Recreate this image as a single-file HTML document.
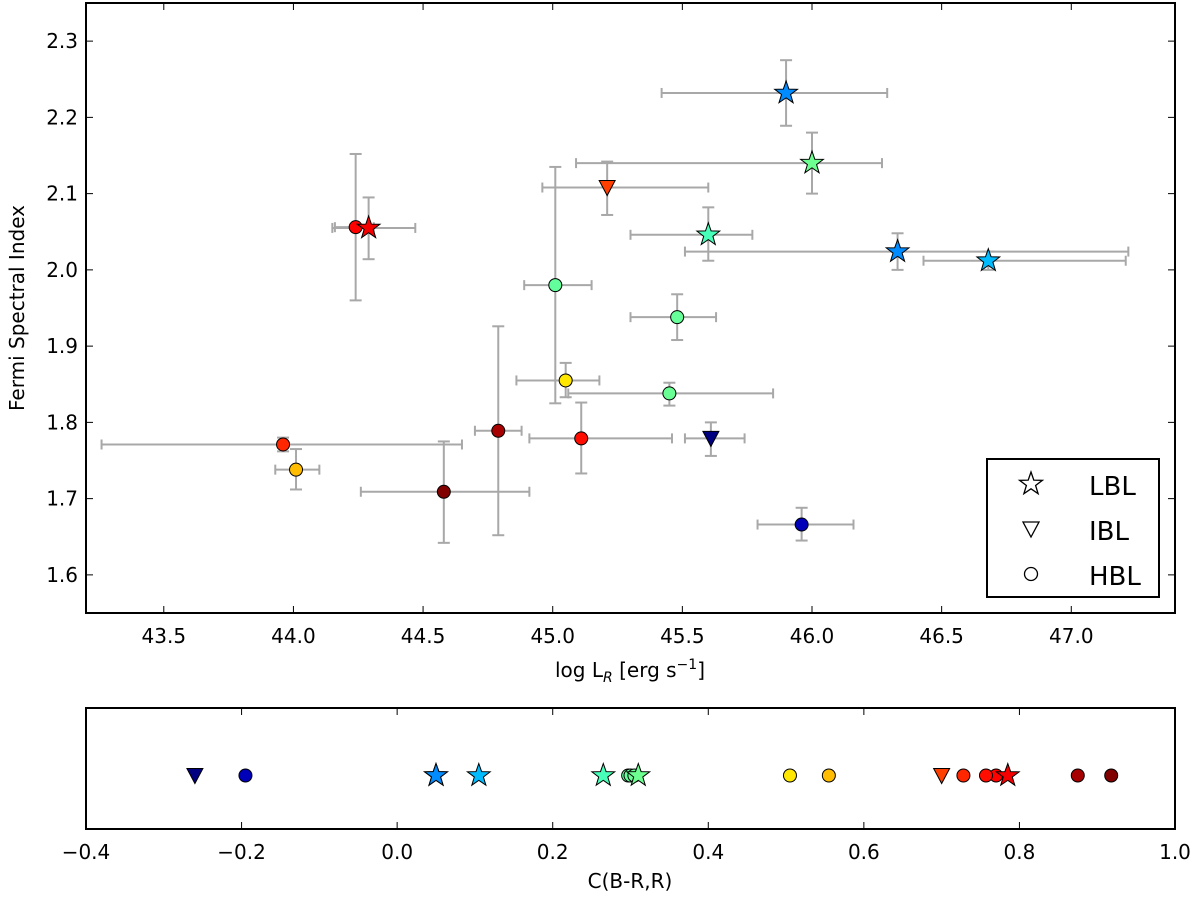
<!DOCTYPE html>
<html><head><meta charset="utf-8"><style>
body{margin:0;background:#fff;}
svg text{font-family:"DejaVu Sans","Liberation Sans",sans-serif;}
</style></head><body>
<svg id="chart" width="1200" height="893" xmlns="http://www.w3.org/2000/svg">
<rect width="1200" height="893" fill="#fff"/>
<g id="main"></g>
<g id="bottom"></g>
</svg>
<script>
// main panel data
const types = ['H','S','H','H','H','H','H','H','H','H','H','H','T','T','S','S','S','S','S'];
const logL  = [44.24,44.29,45.01,45.05,45.48,45.45,45.11,44.79,44.58,43.96,44.01,45.96,45.21,45.61,45.90,46.00,45.60,46.33,46.68];
const gamma = [2.056,2.055,1.980,1.855,1.938,1.838,1.779,1.789,1.709,1.771,1.738,1.666,2.108,1.779,2.232,2.140,2.046,2.024,2.012];
const xLo   = [44.16,44.15,44.89,44.86,45.30,45.06,44.91,44.70,44.26,43.26,43.93,45.79,44.96,45.51,45.42,45.09,45.30,45.51,46.43];
const xHi   = [44.31,44.47,45.15,45.18,45.63,45.85,45.46,44.88,44.91,44.65,44.10,46.16,45.60,45.74,46.29,46.27,45.77,47.22,47.21];
const yLo   = [1.960,2.014,1.825,1.833,1.908,1.822,1.733,1.652,1.642,1.762,1.712,1.645,2.072,1.756,2.189,2.100,2.012,2.000,2.000];
const yHi   = [2.152,2.095,2.135,1.878,1.968,1.852,1.826,1.926,1.775,1.780,1.765,1.688,2.142,1.800,2.275,2.180,2.082,2.048,2.024];
const cVal  = [0.770,0.785,0.297,0.505,0.300,0.305,0.757,0.875,0.918,0.728,0.555,-0.195,0.700,-0.260,0.050,0.310,0.265,0.050,0.105];
const xTicks = [43.5,44.0,44.5,45.0,45.5,46.0,46.5,47.0];
const yTicks = [1.6,1.7,1.8,1.9,2.0,2.1,2.2,2.3];
const cTicks = [-0.4,-0.2,0.0,0.2,0.4,0.6,0.8,1.0];
const cTickLabels = ['\u22120.4','\u22120.2','0.0','0.2','0.4','0.6','0.8','1.0'];

const NS='http://www.w3.org/2000/svg';
const L=86,R=1175,T=3,B=613;
const X=v=>L+(v-43.2)/(47.4-43.2)*(R-L);
const Y=v=>B-(v-1.55)/(2.35-1.55)*(B-T);
const BT=708,BB=829;
const CX=v=>L+(v+0.4)/1.4*(R-L);
const CY=(BT+BB)/2+7;
function mk(parent,tag,attrs,text){const e=document.createElementNS(NS,tag);for(const k in attrs)e.setAttribute(k,attrs[k]);if(text!==undefined)e.textContent=text;parent.appendChild(e);return e;}
function jet(v){const t=Math.max(0,Math.min(1,(v+0.26)/(0.92+0.26)));const c=x=>Math.round(255*Math.max(0,Math.min(1,1.5-Math.abs(4*t-x))));return `rgb(${c(3)},${c(2)},${c(1)})`;}
function starPts(cx,cy,r){let p=[];for(let i=0;i<10;i++){const a=-Math.PI/2+i*Math.PI/5;const rr=i%2?r*0.4:r;p.push((cx+rr*Math.cos(a)).toFixed(1)+','+(cy+rr*Math.sin(a)).toFixed(1));}return p.join(' ');}
function marker(g,t,cx,cy,fill){
  let e;
  if(t==='S'){e=mk(g,'polygon',{points:starPts(cx,cy,12),fill:fill,stroke:'#000','stroke-width':1});}
  else if(t==='T'){e=mk(g,'polygon',{points:`${cx-8},${cy-7} ${cx+8},${cy-7} ${cx},${cy+8}`,fill:fill,stroke:'#000','stroke-width':1});}
  else{e=mk(g,'circle',{cx:cx,cy:cy,r:6.5,fill:fill,stroke:'#000','stroke-width':1});}
  return e;
}
const main=document.getElementById('main');
// error bars
for(let i=0;i<logL.length;i++){
  const g=mk(main,'g',{stroke:'#a8a8a8','stroke-width':2,fill:'none'});
  
  
  const x=X(logL[i]),y=Y(gamma[i]);
  mk(g,'line',{x1:X(xLo[i]),x2:X(xHi[i]),y1:y,y2:y});
  mk(g,'line',{x1:X(xLo[i]),x2:X(xLo[i]),y1:y-5,y2:y+5});
  mk(g,'line',{x1:X(xHi[i]),x2:X(xHi[i]),y1:y-5,y2:y+5});
  mk(g,'line',{x1:x,x2:x,y1:Y(yLo[i]),y2:Y(yHi[i])});
  mk(g,'line',{x1:x-6,x2:x+6,y1:Y(yLo[i]),y2:Y(yLo[i])});
  mk(g,'line',{x1:x-6,x2:x+6,y1:Y(yHi[i]),y2:Y(yHi[i])});
}
for(let i=0;i<logL.length;i++){
  const e=marker(main,types[i],X(logL[i]),Y(gamma[i]),jet(cVal[i]));
  
  
}
mk(main,'rect',{x:L,y:T,width:R-L,height:B-T,fill:'none',stroke:'#000','stroke-width':2});
xTicks.forEach(v=>{const x=X(v);mk(main,'line',{x1:x,x2:x,y1:B,y2:B-7,stroke:'#000'});mk(main,'line',{x1:x,x2:x,y1:T,y2:T+7,stroke:'#000'});
  const t=mk(main,'text',{x:x,y:B+30,'font-size':20,'text-anchor':'middle'},v.toFixed(1));});
yTicks.forEach(v=>{const y=Y(v);mk(main,'line',{x1:L,x2:L+7,y1:y,y2:y,stroke:'#000'});mk(main,'line',{x1:R,x2:R-7,y1:y,y2:y,stroke:'#000'});
  const t=mk(main,'text',{x:L-8,y:y+7,'font-size':20,'text-anchor':'end'},v.toFixed(1));});
const xt=mk(main,'text',{x:630,y:677,'font-size':20,'text-anchor':'middle'});

xt.innerHTML='log L<tspan dy="5" font-size="14" font-style="italic">R</tspan><tspan dy="-5"> [erg s</tspan><tspan dy="-8" font-size="14">\u22121</tspan><tspan dy="8">]</tspan>';
const yt=mk(main,'text',{x:0,y:0,'font-size':20,'text-anchor':'middle',transform:'translate(24,308) rotate(-90)'},'Fermi Spectral Index');

// legend
const lg=mk(main,'g',{});
mk(lg,'rect',{x:987,y:459,width:172,height:138,fill:'#fff',stroke:'#000','stroke-width':2});
[['S','LBL',486],['T','IBL',531],['H','HBL',576]].forEach(([t,l,y])=>{
  const e=marker(lg,t,1031,y-2,'none');e.setAttribute('stroke-width',1.3);
  const tx=mk(lg,'text',{x:1089,y:y+9,'font-size':26},l);});
// bottom panel
const bot=document.getElementById('bottom');
for(let i=0;i<cVal.length;i++){
  const e=marker(bot,types[i],CX(cVal[i]),CY,jet(cVal[i]));
  
  
}
mk(bot,'rect',{x:L,y:BT,width:R-L,height:BB-BT,fill:'none',stroke:'#000','stroke-width':2});
cTicks.forEach((v,i)=>{const x=CX(v);mk(bot,'line',{x1:x,x2:x,y1:BB,y2:BB-7,stroke:'#000'});mk(bot,'line',{x1:x,x2:x,y1:BT,y2:BT+7,stroke:'#000'});
  const t=mk(bot,'text',{x:x,y:BB+30,'font-size':20,'text-anchor':'middle'},cTickLabels[i]);});
const ct=mk(bot,'text',{x:630,y:888,'font-size':20,'text-anchor':'middle'},'C(B-R,R)');

</script>
</body></html>
